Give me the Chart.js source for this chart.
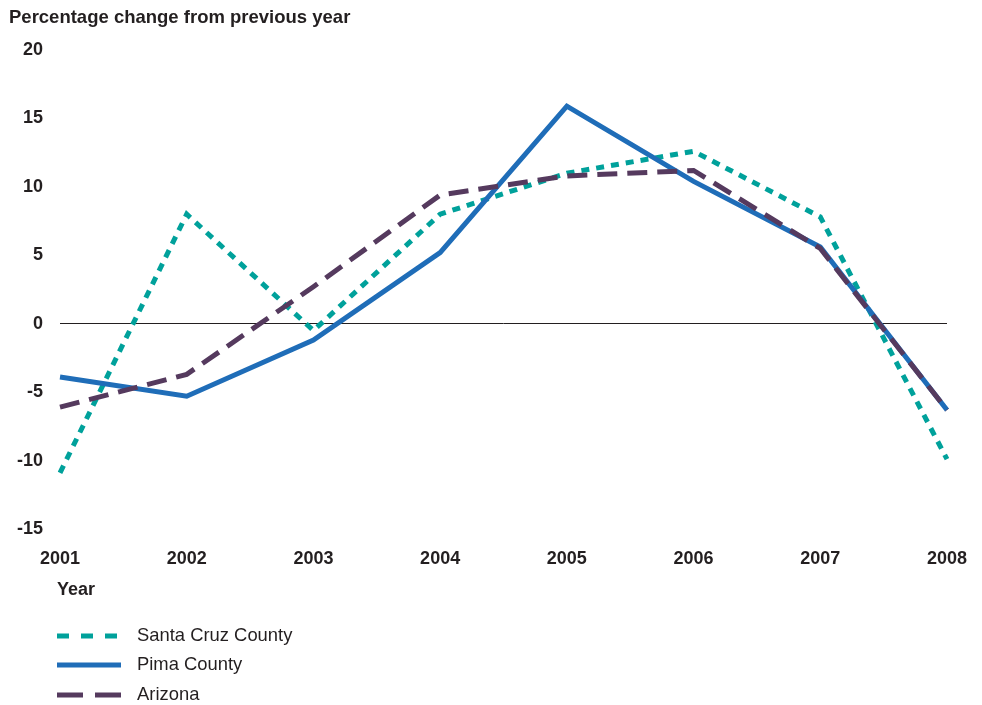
<!DOCTYPE html>
<html>
<head>
<meta charset="utf-8">
<script src="https://cdn.jsdelivr.net/npm/chart.js@4.4.1/dist/chart.umd.min.js"></script>
<style>
  html, body { margin: 0; padding: 0; background: #fff; }
  #wrap { width: 982px; height: 705px; position: relative; }
</style>
</head>
<body>
<div id="wrap"><canvas id="myChart" width="982" height="705"></canvas></div>
<script>
var years = ["2001", "2002", "2003", "2004", "2005", "2006", "2007", "2008"];
var santaCruz = [-10.9, 8.0, -0.5, 8.0, 11.0, 12.6, 7.8, -9.9];
var pima = [-3.9, -5.3, -1.2, 5.2, 15.9, 10.4, 5.6, -6.3];
var arizona = [-6.1, -3.7, 2.7, 9.4, 10.8, 11.2, 5.5, -6.3];
var yTicks = [20, 15, 10, 5, 0, -5, -10, -15];

var textColor = "#231f20";
var fontFam = "'Liberation Sans', Arial, sans-serif";

var series = [
  { label: "Santa Cruz County", data: santaCruz, color: "#00a19b", dash: [8, 7], legendDash: [12, 12] },
  { label: "Pima County", data: pima, color: "#1f6db8", dash: [], legendDash: [] },
  { label: "Arizona", data: arizona, color: "#553a5e", dash: [20, 10], legendDash: [26, 12] }
];

// title, axis name and the stacked legend at the bottom
var extras = {
  id: "extras",
  afterDraw: function (chart) {
    var ctx = chart.ctx;
    ctx.save();
    ctx.fillStyle = textColor;
    ctx.textBaseline = "middle";
    ctx.textAlign = "left";
    ctx.font = "bold 18.5px " + fontFam;
    ctx.fillText("Percentage change from previous year", 9, 18);
    ctx.font = "bold 18px " + fontFam;
    ctx.fillText("Year", 57, 590);

    var rows = [636, 665, 695];
    for (var i = 0; i < series.length; i++) {
      var s = series[i];
      ctx.beginPath();
      ctx.strokeStyle = s.color;
      ctx.lineWidth = 5;
      ctx.setLineDash(s.legendDash);
      ctx.moveTo(57, rows[i]);
      ctx.lineTo(121, rows[i]);
      ctx.stroke();
      ctx.setLineDash([]);
      ctx.font = "18.4px " + fontFam;
      ctx.fillStyle = textColor;
      ctx.fillText(s.label, 137, rows[i]);
    }
    ctx.restore();
  }
};

var canvas = document.getElementById("myChart");
var myChart = new Chart(canvas, {
  type: "line",
  data: {
    labels: years,
    datasets: series.map(function (s) {
      return {
        label: s.label,
        data: s.data,
        borderColor: s.color,
        backgroundColor: s.color,
        borderWidth: 5,
        borderDash: s.dash,
        pointRadius: 0,
        tension: 0,
        fill: false
      };
    }).reverse()
  },
  options: {
    responsive: false,
    animation: false,
    layout: { padding: { top: 50, left: 0, right: 35, bottom: 0 } },
    plugins: {
      legend: { display: false },
      tooltip: { enabled: false }
    },
    scales: {
      x: {
        offset: false,
        grid: { display: false },
        border: { display: false },
        ticks: {
          color: textColor,
          font: { family: fontFam, size: 18, weight: "bold" },
          padding: 11,
          maxRotation: 0
        },
        afterFit: function (scale) { scale.height = 176; }
      },
      y: {
        min: -15,
        max: 20,
        border: { display: false },
        grid: {
          drawTicks: false,
          lineWidth: 1,
          color: function (c) {
            return c.tick && c.tick.value === 0 ? "#231f20" : "rgba(0,0,0,0)";
          }
        },
        afterBuildTicks: function (scale) {
          scale.ticks = yTicks.map(function (v) { return { value: v }; });
        },
        ticks: {
          color: textColor,
          font: { family: fontFam, size: 18, weight: "bold" },
          padding: 17
        },
        afterFit: function (scale) { scale.width = 60; }
      }
    }
  },
  plugins: [extras]
});
</script>
</body>
</html>
